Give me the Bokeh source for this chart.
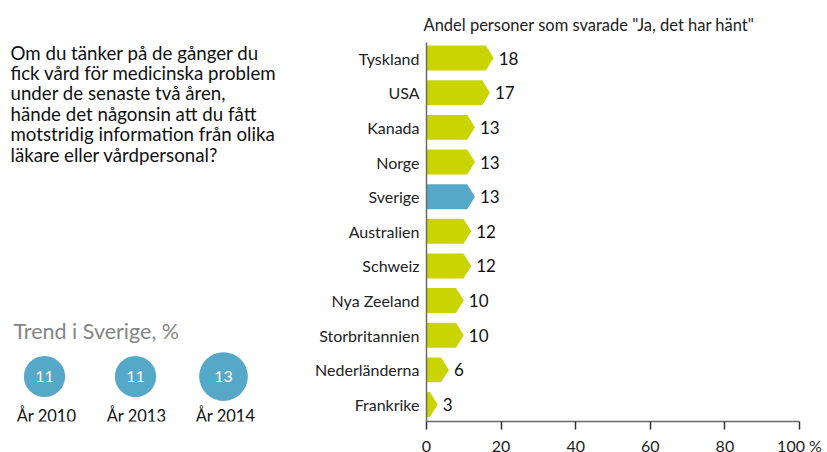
from bokeh.plotting import figure
from bokeh.layouts import row
from bokeh.models import Range1d, FixedTicker, ColumnDataSource, LabelSet, Label
from bokeh.core.properties import value
from bokeh.embed import file_html
from bokeh.resources import INLINE

# ---- data ----
countries = ["Tyskland", "USA", "Kanada", "Norge", "Sverige", "Australien",
             "Schweiz", "Nya Zeeland", "Storbritannien", "Nederländerna", "Frankrike"]
shares = [18, 17, 13, 13, 13, 12, 12, 10, 10, 6, 3]
highlight = "Sverige"
x_ticks = [0, 20, 40, 60, 80, 100]

trend_years = ["År 2010", "År 2013", "År 2014"]
trend_values = [11, 11, 13]

question_lines = ["Om du tänker på de gånger du",
                  "fick vård för medicinska problem",
                  "under de senaste två åren,",
                  "hände det någonsin att du fått",
                  "motstridig information från olika",
                  "läkare eller vårdpersonal?"]
chart_title = 'Andel personer som svarade "Ja, det har hänt"'
trend_title = "Trend i Sverige, %"

GREEN = "#c9d400"
BLUE = "#55a8c8"
FONT = "Lato"
H = 462
LW = 300

# ---- left panel (coordinates equal to page pixels) ----
left = figure(width=LW, height=H, output_backend="svg", toolbar_location=None,
              x_range=Range1d(0, LW), y_range=Range1d(421, 42),
              min_border=0, outline_line_color=None)
left.axis.visible = False
left.grid.visible = False

qsrc = ColumnDataSource(dict(x=[10] * len(question_lines),
                             y=[59 + 20.4 * i for i in range(len(question_lines))],
                             t=question_lines))
left.add_layout(LabelSet(x="x", y="y", text="t", source=qsrc,
                         text_font=value(FONT), text_font_size=value("18.7px"),
                         text_color="#111111", text_baseline="alphabetic",
                         text_align="left"))

left.add_layout(Label(x=13, y=330, text=trend_title, text_font=FONT,
                      text_font_size="21.5px", text_color="#858585",
                      text_baseline="alphabetic", text_align="left"))

cx = [44, 135, 223]
tsrc = ColumnDataSource(dict(x=cx, y=[376] * 3,
                             s=[v * 3.75 for v in trend_values],
                             t=[str(v) for v in trend_values],
                             yl=[421] * 3, xl=[46, 136, 225], yr=trend_years))
left.scatter(x="x", y="y", size="s", marker="circle", source=tsrc,
             fill_color=BLUE, line_color=None)
left.add_layout(LabelSet(x="x", y="y", text="t", source=tsrc,
                         text_font=value(FONT), text_font_size=value("16px"),
                         text_color="white", text_align="center",
                         text_baseline="middle"))
left.add_layout(LabelSet(x="xl", y="yl", text="yr", source=tsrc,
                         text_font=value(FONT), text_font_size=value("16.5px"),
                         text_color="#111111", text_align="center",
                         text_baseline="alphabetic"))

# ---- right panel: bar chart ----
n = len(countries)
ypos = [n - 1 - i for i in range(n)]
h = 0.36
d = 2.1
xs, ys, cols = [], [], []
for c, v, y in zip(countries, shares, ypos):
    r = max(v - d, 0)
    xs.append([0, r, v, r, 0])
    ys.append([y + h, y + h, y, y - h, y - h])
    cols.append(BLUE if c == highlight else GREEN)

y_lo, y_hi = -0.49, n - 1 + 0.45
p = figure(width=827 - LW, height=H, output_backend="svg", toolbar_location=None,
           x_range=Range1d(0, 100), y_range=Range1d(y_lo, y_hi),
           min_border_left=426 - LW, min_border_right=827 - 799, min_border_top=42,
           min_border_bottom=H - 421, outline_line_color=None,
           title=chart_title)
p.grid.visible = False
p.title.align = "left"
p.title.offset = -3
p.title.standoff = 16
p.title.text_font = FONT
p.title.text_font_size = "16.5px"
p.title.text_font_style = "normal"
p.title.text_color = "#222222"

p.patches(xs=xs, ys=ys, fill_color=cols, line_color=None)
p.text(x=shares, y=ypos, text=[str(v) for v in shares], x_offset=5,
       text_font=value(FONT), text_font_size="17px", text_color="#111111",
       text_baseline="middle", text_align="left")

p.xaxis.ticker = FixedTicker(ticks=x_ticks)
p.xaxis.major_label_overrides = {100: "100 %"}
p.xaxis.axis_line_color = "#6a6a6a"
p.xaxis.axis_line_width = 1.5
p.xaxis.major_tick_line_color = "#333333"
p.xaxis.major_tick_line_width = 1.5
p.xaxis.major_tick_out = 8
p.xaxis.major_tick_in = 0
p.xaxis.minor_tick_line_color = None
p.xaxis.major_label_text_font = FONT
p.xaxis.major_label_text_font_size = "16px"
p.xaxis.major_label_text_color = "#222222"
p.xaxis.major_label_standoff = 6

p.yaxis.ticker = FixedTicker(ticks=ypos)
p.yaxis.major_label_overrides = {y: c for c, y in zip(countries, ypos)}
p.yaxis.axis_line_color = "#6a6a6a"
p.yaxis.axis_line_width = 1.5
p.yaxis.major_tick_line_color = None
p.yaxis.minor_tick_line_color = None
p.yaxis.major_label_text_font = FONT
p.yaxis.major_label_text_font_size = "16px"
p.yaxis.major_label_text_color = "#222222"
p.yaxis.major_label_standoff = 1

layout = row(left, p, spacing=0)
open("out.html", "w").write(file_html(layout, INLINE))
